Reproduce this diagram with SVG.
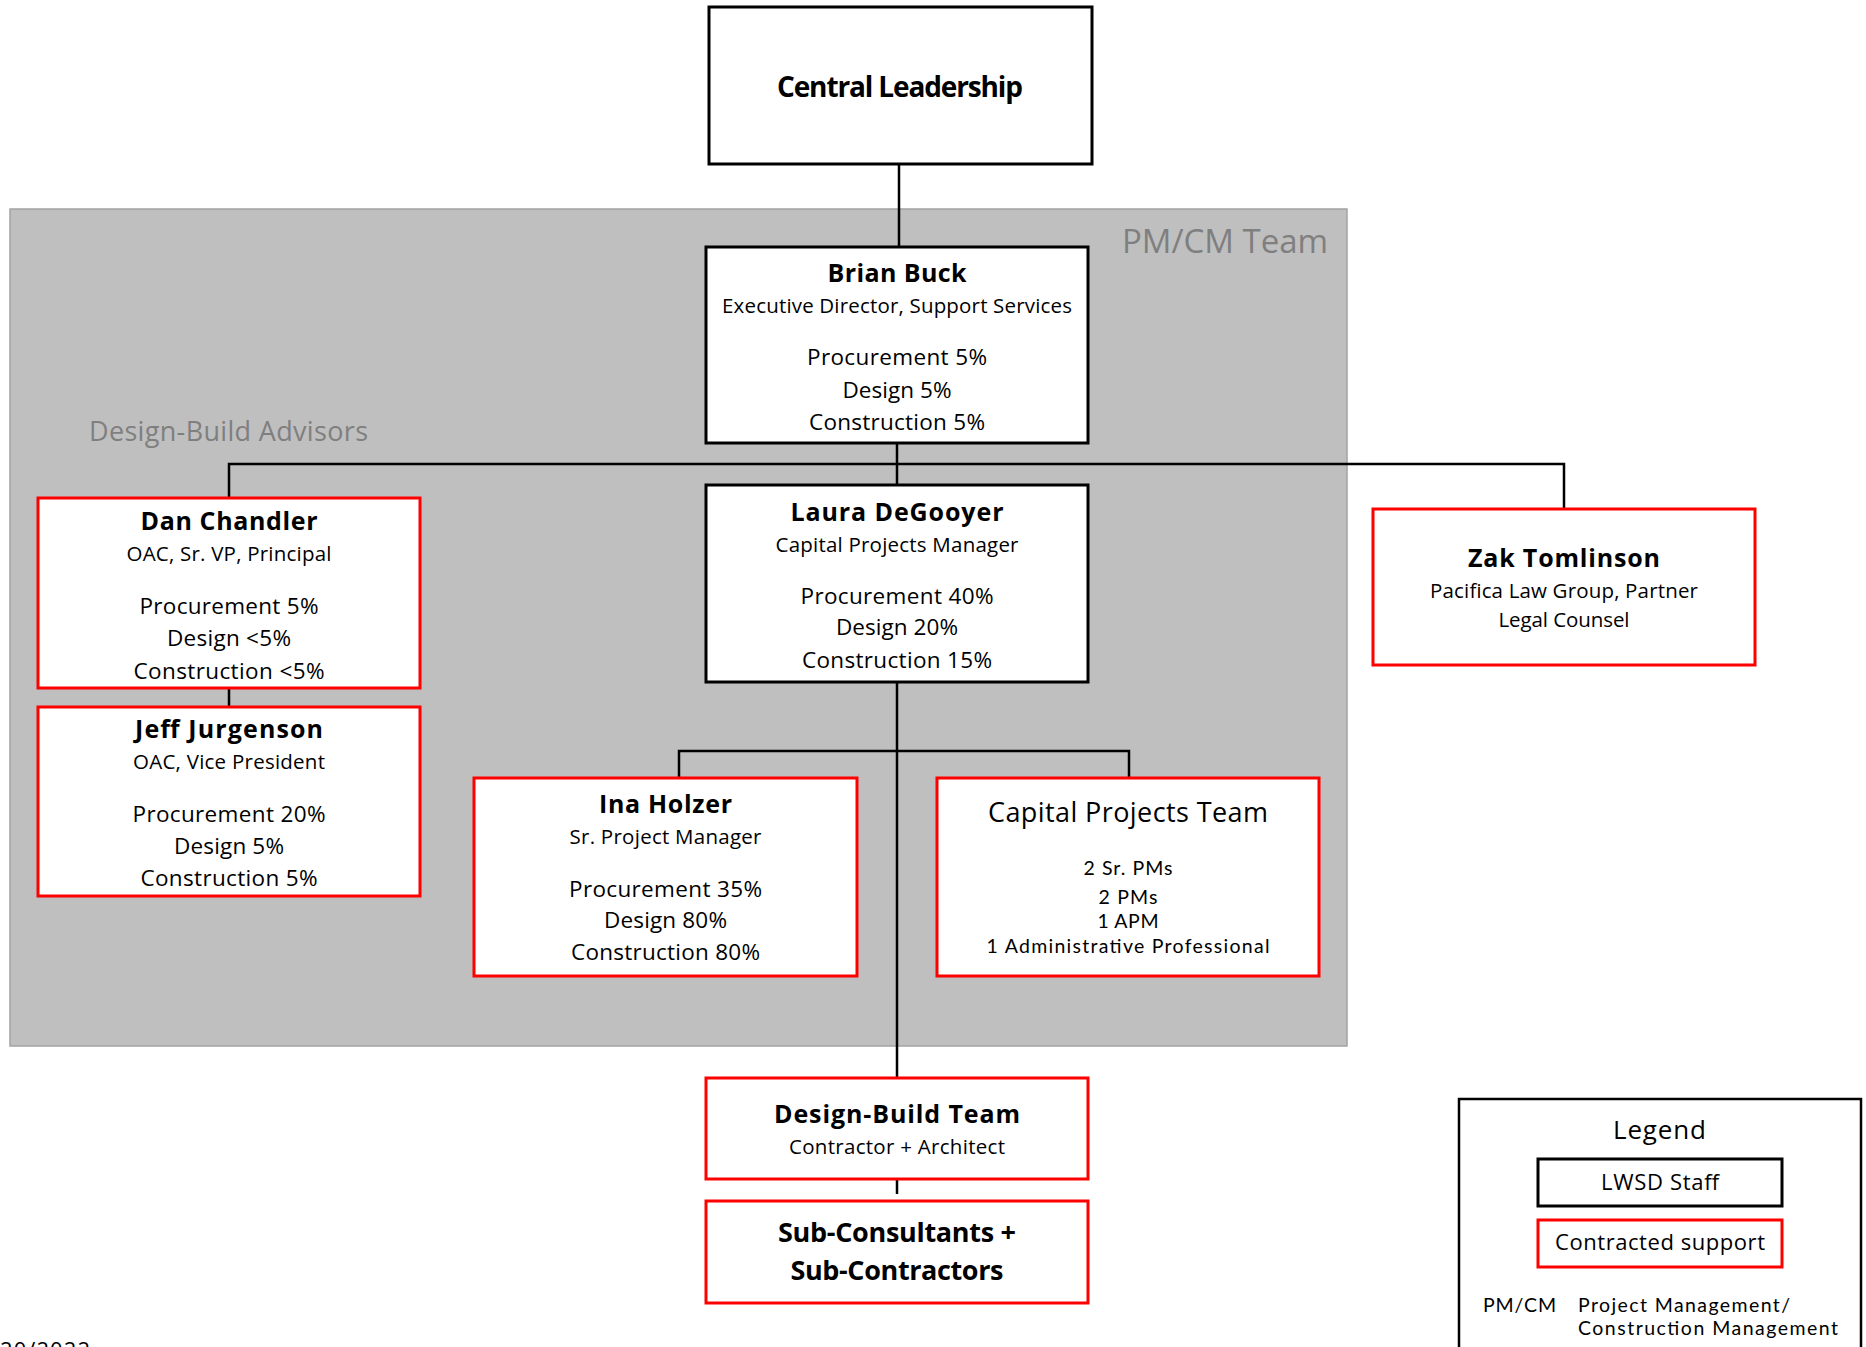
<svg xmlns="http://www.w3.org/2000/svg" width="1866" height="1347" viewBox="0 0 1866 1347">
<style>
text{font-family:"Open Sans","Noto Sans","Liberation Sans",sans-serif;fill:#000;text-anchor:middle}
.b{font-weight:700}
.staff{fill:#fff;stroke:#000;stroke-width:3}
.contr{fill:#fff;stroke:#ff0000;stroke-width:3}
.conn{stroke:#000;stroke-width:2.5;fill:none}
.grp{fill:#7f7f7f}
.nm{font-size:25px;font-weight:700}
.sub{font-size:20.5px}
.pc{font-size:22.5px}
.tight{font-family:Lato,"Liberation Sans",sans-serif;font-size:19.5px}
</style>
<rect width="1866" height="1347" fill="#fff"/>
<g id="pmcm-team">
<rect x="10" y="209" width="1337" height="837" fill="#bfbfbf" stroke="#a3a3a3" stroke-width="1.5"/>
<text class="grp" x="1225" y="253" font-size="33" textLength="206">PM/CM Team</text>
<text class="grp" x="228.5" y="441" font-size="27" textLength="279">Design-Build Advisors</text>
</g>
<g id="connectors">
<path class="conn" d="M899 164V247"/>
<path class="conn" d="M897 443V485"/>
<path class="conn" d="M229 498V464H1564V509"/>
<path class="conn" d="M229 688V707"/>
<path class="conn" d="M897 682V1078"/>
<path class="conn" d="M679 778V751H1129V778"/>
<path class="conn" d="M897 1179V1194"/>
</g>
<g id="central-leadership">
<rect class="staff" x="709" y="7" width="383" height="157"/>
<text class="b" x="900" y="97" font-size="28" textLength="246">Central Leadership</text>
</g>
<g id="brian-buck">
<rect class="staff" x="706" y="247" width="382" height="196"/>
<text class="nm" x="897" y="282" textLength="139">Brian Buck</text>
<text class="sub" x="897" y="313" textLength="350">Executive Director, Support Services</text>
<text class="pc" x="897" y="365" textLength="180">Procurement 5%</text>
<text class="pc" x="897" y="398" textLength="109">Design 5%</text>
<text class="pc" x="897" y="430" textLength="176">Construction 5%</text>
</g>
<g id="dan-chandler">
<rect class="contr" x="38" y="498" width="382" height="190"/>
<text class="nm" x="229" y="530" textLength="177">Dan Chandler</text>
<text class="sub" x="229" y="561" textLength="205">OAC, Sr. VP, Principal</text>
<text class="pc" x="229" y="614" textLength="179">Procurement 5%</text>
<text class="pc" x="229" y="646" textLength="124">Design &lt;5%</text>
<text class="pc" x="229" y="679" textLength="191">Construction &lt;5%</text>
</g>
<g id="jeff-jurgenson">
<rect class="contr" x="38" y="707" width="382" height="189"/>
<text class="nm" x="229" y="738" textLength="188">Jeff Jurgenson</text>
<text class="sub" x="229" y="769" textLength="192">OAC, Vice President</text>
<text class="pc" x="229" y="822" textLength="193">Procurement 20%</text>
<text class="pc" x="229" y="854" textLength="110">Design 5%</text>
<text class="pc" x="229" y="886" textLength="177">Construction 5%</text>
</g>
<g id="laura-degooyer">
<rect class="staff" x="706" y="485" width="382" height="197"/>
<text class="nm" x="897" y="521" textLength="213">Laura DeGooyer</text>
<text class="sub" x="897" y="552" textLength="243">Capital Projects Manager</text>
<text class="pc" x="897" y="604" textLength="193">Procurement 40%</text>
<text class="pc" x="897" y="635" textLength="122">Design 20%</text>
<text class="pc" x="897" y="668" textLength="190">Construction 15%</text>
</g>
<g id="zak-tomlinson">
<rect class="contr" x="1373" y="509" width="382" height="156"/>
<text class="nm" x="1564" y="567" textLength="192">Zak Tomlinson</text>
<text class="sub" x="1564" y="598" textLength="268">Pacifica Law Group, Partner</text>
<text class="sub" x="1564" y="627" textLength="131">Legal Counsel</text>
</g>
<g id="ina-holzer">
<rect class="contr" x="474" y="778" width="383" height="198"/>
<text class="nm" x="665.5" y="813" textLength="133">Ina Holzer</text>
<text class="sub" x="665.5" y="844" textLength="192">Sr. Project Manager</text>
<text class="pc" x="665.5" y="897" textLength="193">Procurement 35%</text>
<text class="pc" x="665.5" y="928" textLength="123">Design 80%</text>
<text class="pc" x="665.5" y="960" textLength="189">Construction 80%</text>
</g>
<g id="capital-projects-team">
<rect class="contr" x="937" y="778" width="382" height="198"/>
<text x="1128" y="822" font-size="27" textLength="280">Capital Projects Team</text>
<text class="tight" x="1128" y="875" textLength="89">2 Sr. PMs</text>
<text class="tight" x="1128" y="904" textLength="59">2 PMs</text>
<text class="tight" x="1128" y="928" textLength="61">1 APM</text>
<text class="tight" x="1128" y="953" textLength="283">1 Administrative Professional</text>
</g>
<g id="design-build-team">
<rect class="contr" x="706" y="1078" width="382" height="101"/>
<text class="nm" x="897" y="1123" textLength="246">Design-Build Team</text>
<text class="sub" x="897" y="1154" textLength="216">Contractor + Architect</text>
</g>
<g id="sub-consultants">
<rect class="contr" x="706" y="1201" width="382" height="102"/>
<text class="b" x="897" y="1242" font-size="27" textLength="238">Sub-Consultants +</text>
<text class="b" x="897" y="1280" font-size="27" textLength="213">Sub-Contractors</text>
</g>
<g id="legend">
<rect x="1459" y="1099" width="402" height="260" fill="#fff" stroke="#000" stroke-width="2.5"/>
<text x="1659.5" y="1139" font-size="26" textLength="93">Legend</text>
<rect class="staff" x="1538" y="1159" width="244" height="47"/>
<text x="1660" y="1190" font-size="22" textLength="118">LWSD Staff</text>
<rect class="contr" x="1538" y="1220" width="244" height="47" stroke-width="2.5"/>
<text x="1660" y="1250" font-size="22" textLength="210">Contracted support</text>
<text class="tight" x="1483" y="1312" textLength="73" style="text-anchor:start">PM/CM</text>
<text class="tight" x="1578" y="1312" textLength="212" style="text-anchor:start">Project Management/</text>
<text class="tight" x="1578" y="1335" textLength="260" style="text-anchor:start">Construction Management</text>
</g>
<text x="0" y="1358" font-size="22" textLength="90" style="text-anchor:start">20/2022</text>
</svg>
